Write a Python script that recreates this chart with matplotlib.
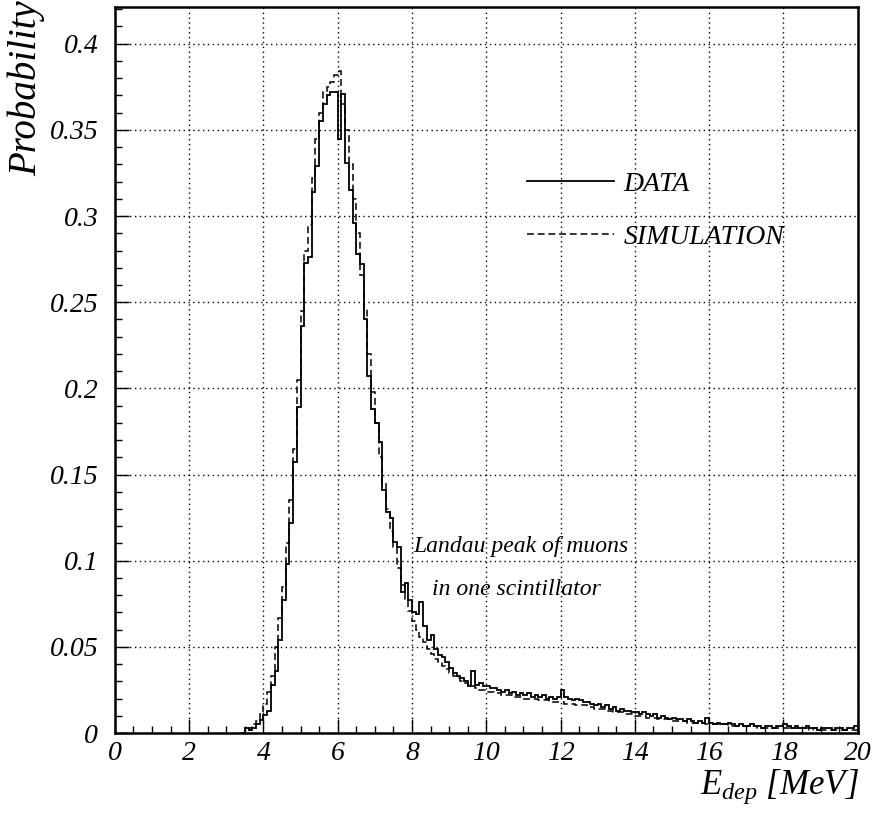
import numpy as np
import matplotlib
matplotlib.use("Agg")
import matplotlib.pyplot as plt
from matplotlib.ticker import MultipleLocator, FixedLocator, FixedFormatter

plt.rcParams['font.family'] = ['Liberation Serif', 'DejaVu Serif']
plt.rcParams['font.style'] = 'italic'
plt.rcParams['mathtext.fontset'] = 'custom'
plt.rcParams['mathtext.it'] = 'Liberation Serif:italic'
plt.rcParams['mathtext.rm'] = 'Liberation Serif:italic'

# histogram binning (MeV): first non-empty bin starts at 3.4, 0.1 MeV wide
bin_start = 3.4
bin_width = 0.1

# measured energy deposit, probability per bin (3.4 ... 19.9 MeV)
data_vals = [
    0.000, 0.003, 0.002, 0.003, 0.005, 0.0075, 0.0105, 0.013, 0.028, 0.036,   # 3.4-4.3
    0.054, 0.077, 0.098, 0.122, 0.157, 0.189, 0.236, 0.273, 0.276, 0.314,    # 4.4-5.3
    0.329, 0.355, 0.365, 0.370, 0.372, 0.372, 0.345, 0.371, 0.331, 0.315,    # 5.4-6.3
    0.296, 0.278, 0.272, 0.240, 0.207, 0.188, 0.180, 0.169, 0.141, 0.128,    # 6.4-7.3
    0.125, 0.111, 0.108, 0.082, 0.087, 0.077, 0.070, 0.069, 0.076, 0.062,    # 7.4-8.3
    0.054, 0.057, 0.049, 0.045, 0.044, 0.041, 0.038, 0.035, 0.033, 0.032,    # 8.4-9.3
    0.030, 0.027, 0.036, 0.028, 0.029, 0.027, 0.027, 0.026, 0.026, 0.025,    # 9.4-10.3
    0.024, 0.025, 0.023, 0.024, 0.022, 0.023, 0.022, 0.023, 0.021, 0.022,    # 10.4-11.3
    0.021, 0.022, 0.020, 0.021, 0.020, 0.021, 0.025, 0.021, 0.020, 0.019,    # 11.4-12.3
    0.020, 0.019, 0.018, 0.018, 0.017, 0.016, 0.017, 0.015, 0.016, 0.014,    # 12.4-13.3
    0.015, 0.013, 0.014, 0.013, 0.013, 0.012, 0.012, 0.011, 0.012, 0.011,    # 13.4-14.3
    0.010, 0.011, 0.009, 0.010, 0.009, 0.008, 0.009, 0.008, 0.008, 0.007,    # 14.4-15.3
    0.008, 0.007, 0.006, 0.007, 0.006, 0.009, 0.006, 0.005, 0.006, 0.005,    # 15.4-16.3
    0.005, 0.006, 0.005, 0.004, 0.005, 0.004, 0.004, 0.005, 0.004, 0.004,    # 16.4-17.3
    0.003, 0.004, 0.004, 0.003, 0.004, 0.004, 0.005, 0.004, 0.003, 0.004,    # 17.4-18.3
    0.003, 0.003, 0.004, 0.003, 0.003, 0.002, 0.003, 0.003, 0.003, 0.002,    # 18.4-19.3
    0.003, 0.003, 0.002, 0.003, 0.003, 0.004,                                # 19.4-19.9
]

# simulated energy deposit
sim_vals = [
    0.000, 0.001, 0.003, 0.005, 0.007, 0.011, 0.017, 0.024, 0.033, 0.050,    # 3.4-4.3
    0.067, 0.085, 0.110, 0.135, 0.165, 0.205, 0.245, 0.280, 0.295, 0.322,    # 4.4-5.3
    0.345, 0.360, 0.372, 0.375, 0.378, 0.382, 0.384, 0.365, 0.350, 0.330,    # 5.4-6.3
    0.310, 0.290, 0.266, 0.246, 0.220, 0.198, 0.180, 0.160, 0.145, 0.130,    # 6.4-7.3
    0.117, 0.108, 0.096, 0.086, 0.078, 0.071, 0.065, 0.060, 0.056, 0.053,    # 7.4-8.3
    0.049, 0.046, 0.043, 0.041, 0.039, 0.037, 0.035, 0.033, 0.032, 0.030,    # 8.4-9.3
    0.029, 0.028, 0.027, 0.026, 0.025, 0.025, 0.024, 0.024, 0.023, 0.023,    # 9.4-10.3
    0.022, 0.022, 0.022, 0.021, 0.021, 0.021, 0.020, 0.020, 0.020, 0.020,    # 10.4-11.3
    0.019, 0.019, 0.019, 0.018, 0.018, 0.018, 0.018, 0.017, 0.017, 0.017,    # 11.4-12.3
    0.016, 0.016, 0.016, 0.015, 0.015, 0.014, 0.014, 0.014, 0.013, 0.013,    # 12.4-13.3
    0.012, 0.012, 0.012, 0.011, 0.011, 0.011, 0.010, 0.010, 0.010, 0.009,    # 13.4-14.3
    0.009, 0.009, 0.008, 0.008, 0.008, 0.008, 0.007, 0.007, 0.007, 0.007,    # 14.4-15.3
    0.006, 0.006, 0.006, 0.006, 0.006, 0.005, 0.005, 0.005, 0.005, 0.005,    # 15.4-16.3
    0.005, 0.004, 0.004, 0.004, 0.004, 0.004, 0.004, 0.004, 0.004, 0.003,    # 16.4-17.3
    0.003, 0.003, 0.003, 0.003, 0.003, 0.003, 0.003, 0.003, 0.003, 0.003,    # 17.4-18.3
    0.003, 0.003, 0.003, 0.002, 0.003, 0.002, 0.002, 0.002, 0.002, 0.002,    # 18.4-19.3
    0.002, 0.002, 0.002, 0.002, 0.002, 0.002,                                # 19.4-19.9
]

x_ticks = [0, 2, 4, 6, 8, 10, 12, 14, 16, 18, 20]
y_ticks = [0, 0.05, 0.1, 0.15, 0.2, 0.25, 0.3, 0.35, 0.4]
y_tick_labels = ['0', '0.05', '0.1', '0.15', '0.2', '0.25', '0.3', '0.35', '0.4']

edges = np.round(bin_start + bin_width * np.arange(len(data_vals) + 1), 2)

fig = plt.figure(figsize=(8.77, 8.17), dpi=100)
ax = fig.add_axes([0.131, 0.1028, 0.847, 0.8886])

ax.stairs(data_vals, edges, color='black', lw=1.3, label='DATA')
ax.stairs(sim_vals, edges, color='black', lw=1.1, linestyle=(0, (4.5, 2.5)),
          label='SIMULATION')

ax.set_xlim(0, 20)
ax.set_ylim(0, 0.4213)

ax.xaxis.set_major_locator(FixedLocator(x_ticks))
ax.xaxis.set_minor_locator(MultipleLocator(0.5))
ax.yaxis.set_major_locator(FixedLocator(y_ticks))
ax.yaxis.set_major_formatter(FixedFormatter(y_tick_labels))
ax.yaxis.set_minor_locator(MultipleLocator(0.01))

ax.tick_params(which='both', direction='in', top=False, right=False,
               labelsize=20, width=1)
ax.tick_params(axis='x', which='major', length=10, pad=6)
ax.tick_params(axis='y', which='major', length=10, pad=12)
ax.tick_params(which='minor', length=5)

ax.grid(True, which='major', color='black', linestyle=(0, (1, 2.5)), lw=1)
for s in ax.spines.values():
    s.set_linewidth(1.8)

ax.legend(loc='upper left', bbox_to_anchor=(0.5545, 0.774), frameon=False,
          fontsize=20, handlelength=3.15, handletextpad=0.33,
          labelspacing=1.0, borderpad=0, borderaxespad=0)

ax.text(8.03, 0.108, 'Landau peak of muons', fontsize=17, va='center', ha='left')
ax.text(8.54, 0.083, 'in one scintillator', fontsize=17, va='center', ha='left')

fig.text(0.03, 0.999, 'Probability', rotation=90, fontsize=28,
         ha='center', va='top')
fig.text(0.979, 0.028, r'$E_{dep}\ [MeV]$', fontsize=25, ha='right',
         va='baseline')

fig.savefig('out.png', dpi=100)
